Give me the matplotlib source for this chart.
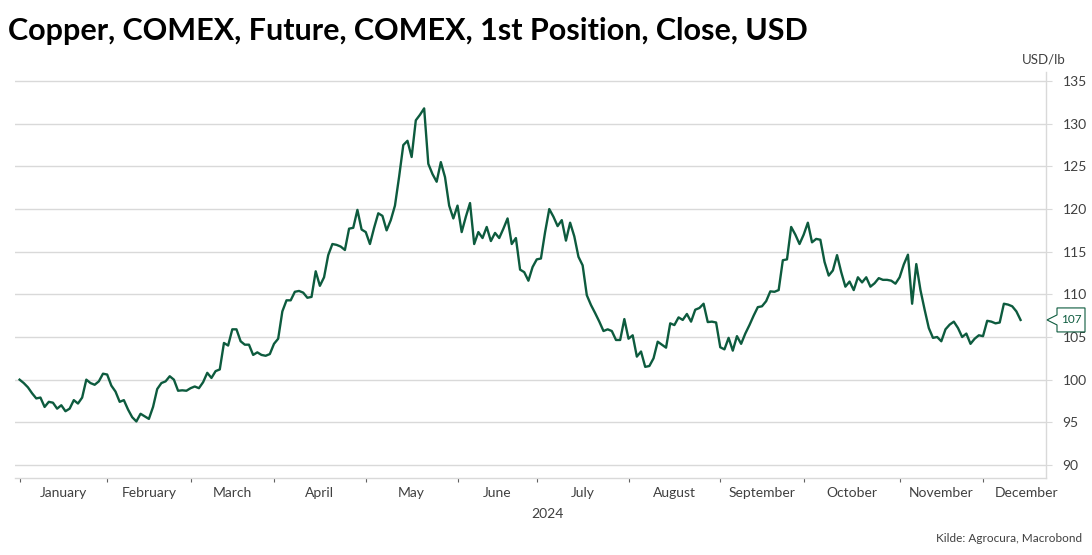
import matplotlib
matplotlib.use("Agg")
import matplotlib.pyplot as plt
from matplotlib.patches import Polygon

plt.rcParams['font.family'] = ['Lato', 'DejaVu Sans']

title = "Copper, COMEX, Future, COMEX, 1st Position, Close, USD"
unit = "USD/lb"
source = "Kilde: Agrocura, Macrobond"
year_label = "2024"

months = ["January", "February", "March", "April", "May", "June", "July",
          "August", "September", "October", "November", "December"]
# trading days per month in 2024
month_days = [21, 20, 20, 22, 22, 19, 22, 22, 20, 23, 20, 21]

values = [
    100.0, 99.6, 99.1, 98.4, 97.8, 97.9, 96.8, 97.4, 97.3, 96.6,
    97.0, 96.3, 96.6, 97.6, 97.2, 97.9, 100.0, 99.6, 99.4, 99.8,
    100.7, 100.6, 99.3, 98.6, 97.4, 97.6, 96.5, 95.6, 95.1, 96.0,
    95.7, 95.4, 96.8, 98.9, 99.6, 99.8, 100.4, 100.0, 98.7, 98.75,
    98.7, 99.0, 99.2, 99.0, 99.7, 100.8, 100.2, 101.0, 101.2, 104.3,
    104.0, 105.9, 105.9, 104.5, 104.1, 104.1, 102.9, 103.2, 102.9, 102.8,
    103.0, 104.2, 104.8, 108.0, 109.3, 109.3, 110.3, 110.4, 110.2, 109.6,
    109.7, 112.7, 111.0, 112.0, 114.6, 115.9, 115.8, 115.6, 115.2, 117.7,
    117.8, 119.9, 117.6, 117.3, 115.9, 117.8, 119.5, 119.2, 117.5, 118.7,
    120.4, 123.8, 127.5, 128.0, 126.1, 130.4, 131.05, 131.8, 125.3, 124.1,
    123.2, 125.5, 123.75, 120.4, 118.9, 120.4, 117.3, 119.1, 120.7, 115.9,
    117.3, 116.6, 117.9, 116.25, 117.2, 116.6, 117.7, 118.9, 115.9, 116.6,
    112.9, 112.6, 111.6, 113.2, 114.1, 114.2, 117.3, 120.0, 119.1, 118.0,
    118.7, 116.3, 118.4, 116.8, 114.4, 113.4, 109.9, 108.75, 107.8, 106.8,
    105.7, 105.9, 105.7, 104.65, 104.65, 107.1, 104.8, 105.2, 102.7, 103.3,
    101.5, 101.6, 102.5, 104.45, 104.1, 103.75, 106.6, 106.4, 107.3, 107.0,
    107.7, 106.8, 108.2, 108.4, 108.9, 106.75, 106.8, 106.7, 103.8, 103.55,
    104.9, 103.4, 105.1, 104.2, 105.4, 106.4, 107.5, 108.5, 108.6, 109.2,
    110.35, 110.3, 110.5, 114.0, 114.1, 117.9, 117.0, 115.9, 117.0, 118.4,
    116.1, 116.5, 116.4, 113.8, 112.2, 112.8, 114.6, 112.6, 110.9, 111.5,
    110.5, 112.0, 111.4, 112.0, 110.9, 111.3, 111.9, 111.7, 111.7, 111.6,
    111.25, 112.0, 113.5, 114.65, 108.9, 113.55, 110.5, 108.2, 106.05, 104.9,
    105.0, 104.5, 105.9, 106.45, 106.8, 106.05, 105.0, 105.4, 104.2, 104.8,
    105.2, 105.1, 106.9, 106.8, 106.6, 106.7, 108.9, 108.8, 108.6, 108.0,
    107.0,
]

yticks = [90, 95, 100, 105, 110, 115, 120, 125, 130, 135]

line_color = "#0d5b3e"
grid_color = "#d9d9d9"
text_color = "#404040"

W, H = 1092, 555
fig = plt.figure(figsize=(W / 100, H / 100), dpi=100)
ax = fig.add_axes([15 / W, (H - 477.5) / H, (1046 - 15) / W, (477.5 - 71.7) / H])

x = list(range(len(values)))
ax.plot(x, values, color=line_color, lw=1.7, solid_joinstyle="round", zorder=3)

ax.set_xlim(-1.1, 246.1)
ax.set_ylim(88.53, 136.1)

# month boundaries
bounds = [0]
for d in month_days:
    bounds.append(bounds[-1] + d)
ax.set_xticks(bounds[:-1])
ax.set_xticklabels([])
centers = [(bounds[i] + bounds[i + 1]) / 2 for i in range(len(months))]
ax.set_xticks(centers, minor=True)
ax.set_xticklabels(months, minor=True)
ax.tick_params(axis="x", which="major", direction="out", length=3, width=0.8,
               color="#606060")
ax.tick_params(axis="x", which="minor", length=0, pad=7, labelsize=10,
               labelcolor=text_color)

ax.yaxis.tick_right()
ax.set_yticks(yticks)
ax.tick_params(axis="y", direction="out", length=4, width=0.8, color=grid_color,
               pad=8, labelsize=10, labelcolor=text_color)
ax.grid(axis="y", color=grid_color, lw=1.0)
ax.set_axisbelow(True)

for s in ["top", "left"]:
    ax.spines[s].set_visible(False)
ax.spines["right"].set_color(grid_color)
ax.spines["bottom"].set_color(grid_color)
ax.spines["right"].set_linewidth(1.0)
ax.spines["bottom"].set_linewidth(1.0)

for lab in ax.get_yticklabels():
    lab.set_horizontalalignment("left")

# texts
fig.text(8 / W, 1 - 31 / H, title, fontsize=22, fontweight="bold",
         color="#000000", va="center", ha="left")
fig.text(1066 / W, 1 - 60 / H, unit, fontsize=9.5, color=text_color,
         va="center", ha="right")
ax.text((547 - 15) / (1046 - 15), -0.09, year_label, transform=ax.transAxes,
        fontsize=10, color=text_color, ha="center", va="center")
fig.text(1082 / W, 1 - 538 / H, source, fontsize=8.5, color=text_color,
         va="center", ha="right")

# last value tag on the right axis
last = values[-1]
fig.canvas.draw()
y0 = ax.transData.transform((0, last))[1]
tip_x = ax.transAxes.transform((1, 0))[0] + 1
pts = [(tip_x, y0), (tip_x + 10, y0 + 5), (tip_x + 10, y0 + 12),
       (tip_x + 38, y0 + 12), (tip_x + 38, y0 - 12), (tip_x + 10, y0 - 12),
       (tip_x + 10, y0 - 5)]
tag = Polygon(pts, closed=True, transform=None, facecolor="white",
              edgecolor=line_color, lw=0.8, zorder=5, clip_on=False)
fig.patches.append(tag)
fig.text((tip_x + 24) / W, y0 / H, f"{last:.0f}", fontsize=8.5,
         color=line_color, ha="center", va="center", zorder=6)

fig.savefig("out.png", dpi=100)
